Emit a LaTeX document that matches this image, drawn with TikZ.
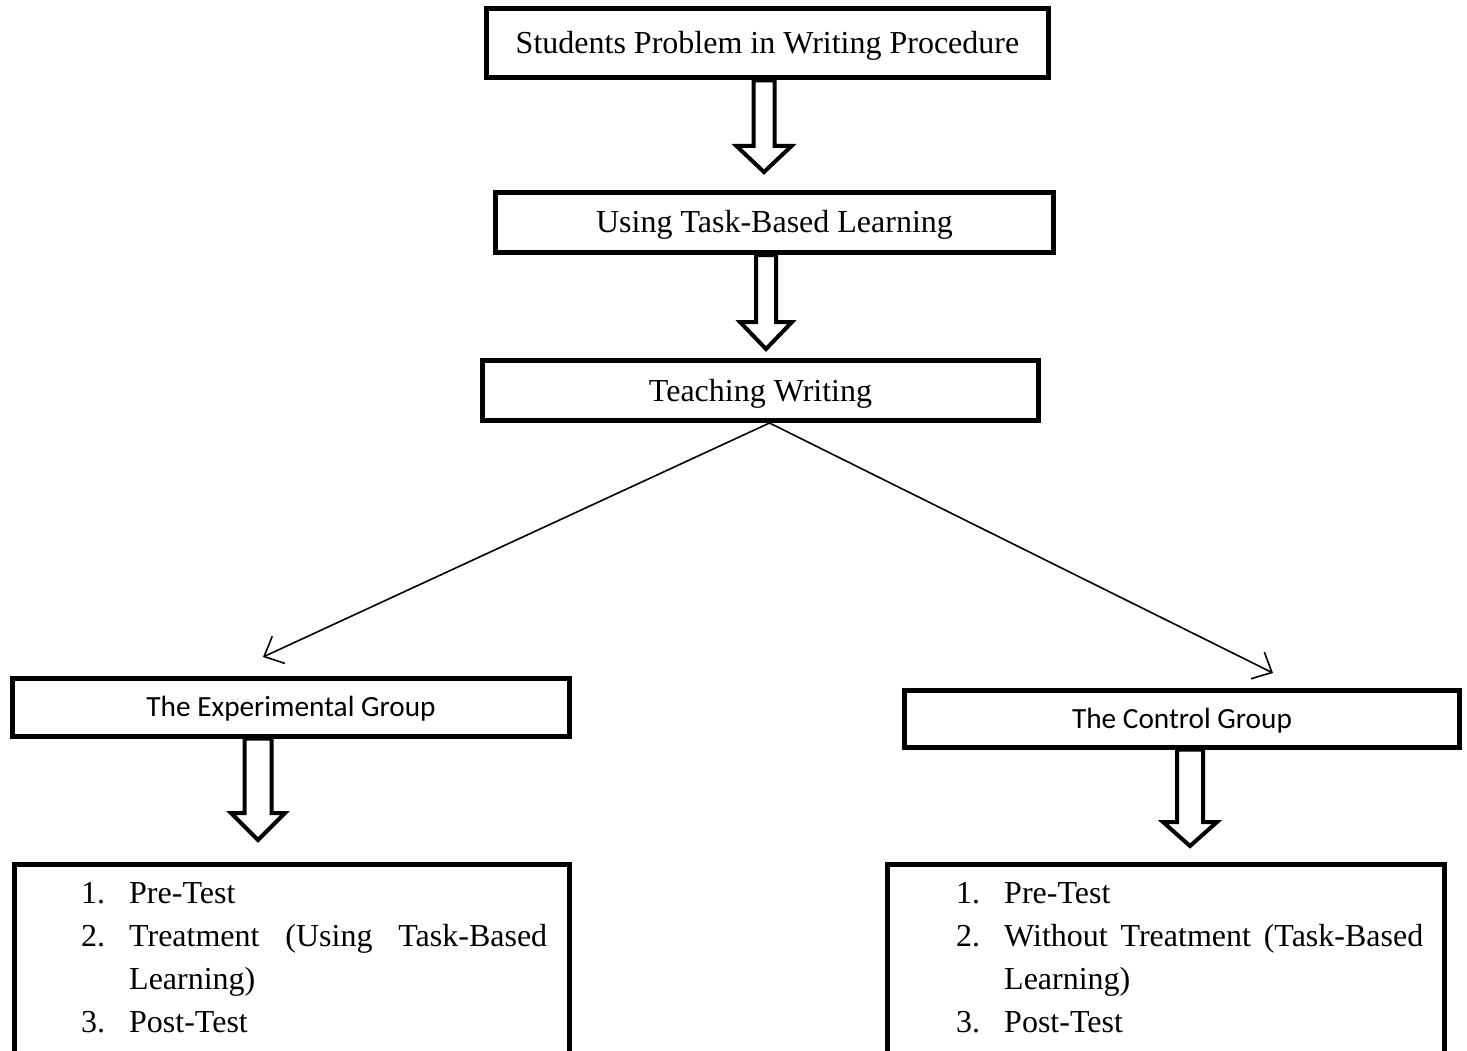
\documentclass[tikz,border=0pt]{standalone}
\usepackage{fontspec}
\setmainfont{Liberation Serif}
\newfontfamily\calibrifont{Carlito}
\usetikzlibrary{arrows.meta,calc}
\tikzset{
  boxnode/.style={draw, line width=5pt, rectangle, inner sep=0pt},
  serifbig/.style={font=\fontsize{32}{43}\selectfont, text height=21pt, text depth=0pt},
  sansbig/.style={font=\calibrifont\fontsize{29.3}{35}\selectfont, text height=19pt, text depth=0pt},
  blk/.style={draw, line width=4pt, fill=white, line join=miter, miter limit=10},
  conn/.style={draw, line width=1.6pt, -{Straight Barb[length=16pt,width=30pt]}},
  listtxt/.style={anchor=north west, inner sep=0pt, align=left, font=\fontsize{32}{43}\selectfont}
}
\newcommand\blockarr[7]{% x, node for top, yhead, ytip, shaft half width, head half width
  \draw[blk] ({#1-#5},0 |- #2) -- ({#1-#5},#3) -- ({#1-#6},#3) -- (#1,#4) -- ({#1+#6},#3) -- ({#1+#5},#3) -- ({#1+#5},0 |- #2) -- cycle;}
\newcommand\itm[2]{\makebox[48pt][l]{#1}#2}
\begin{document}
\begin{tikzpicture}[x=1pt,y=-1pt]
\useasboundingbox (0,0) rectangle (1467,1051);
\clip (0,0) rectangle (1467,1051);

\node[boxnode, serifbig, minimum width=562pt, minimum height=69pt] (top) at (767.5,43.5) {Students Problem in Writing Procedure};
\node[boxnode, serifbig, minimum width=558pt, minimum height=60pt] (b2) at (774.5,222.5) {Using Task-Based Learning};
\node[boxnode, serifbig, minimum width=556pt, minimum height=60pt] (b3) at (760.5,390.5) {Teaching Writing};

\node[boxnode, sansbig, minimum width=557pt, minimum height=58pt] (exp) at (291,707) {The Experimental Group};
\node[boxnode, sansbig, minimum width=555pt, minimum height=57pt] (ctl) at (1182,718.5) {The Control Group};

\node[boxnode, anchor=north, minimum width=555pt, minimum height=260pt] (explist) at (292,862) {};
\node[boxnode, anchor=north, minimum width=557pt, minimum height=260pt] (ctllist) at (1166,862) {};

\node[listtxt] (exptxt) at (81,882) {\itm{1.}{Pre-Test}\\
\itm{2.}{\makebox[418pt][s]{Treatment (Using Task-Based}}\\
\itm{}{Learning)}\\
\itm{3.}{Post-Test}};
\node[listtxt] (ctltxt) at (956,882) {\itm{1.}{Pre-Test}\\
\itm{2.}{\makebox[419pt][s]{Without Treatment (Task-Based}}\\
\itm{}{Learning)}\\
\itm{3.}{Post-Test}};

% block arrows
\blockarr{764}{top.south}{146}{172}{10.5}{27.5}{}
\blockarr{766}{b2.south}{322}{349}{10}{26}{}
\blockarr{258}{exp.south}{813}{840}{13.5}{27}{}
\blockarr{1190}{ctl.south}{822}{846}{13}{27}{}

% diagonal connectors
\coordinate (lt) at (263,657);
\coordinate (rt) at (1273,673);
\draw[conn] ([xshift=9pt]b3.south) -- (lt);
\draw[conn] ([xshift=9pt]b3.south) -- (rt);
\end{tikzpicture}
\end{document}
